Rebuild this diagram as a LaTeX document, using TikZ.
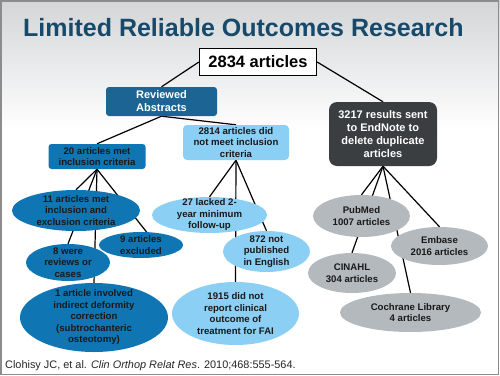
\documentclass[tikz,border=0pt]{standalone}
\usepackage{fontspec}
\setmainfont{Liberation Sans}
\usetikzlibrary{shapes.geometric,calc}
\pgfdeclarelayer{bg}
\pgfdeclarelayer{lines}
\pgfsetlayers{bg,lines,main}
\definecolor{titleblue}{HTML}{17496B}
\definecolor{revblue}{HTML}{1B6494}
\definecolor{medblue}{HTML}{0F76B3}
\definecolor{lightblue}{HTML}{8CCFF4}
\definecolor{silver}{HTML}{B4B9BE}
\definecolor{darkbox}{HTML}{3B3E41}
\definecolor{framegray}{HTML}{8C8C8C}
\definecolor{topgray}{HTML}{D3D5D7}
\begin{document}
\begin{tikzpicture}[x=1pt,y=-1pt,
  bodyfont/.style={font=\bfseries\fontsize{9.6}{11.5}\selectfont},
  bigfont/.style={font=\bfseries\fontsize{11}{13}\selectfont},
  rbox/.style={rectangle, rounded corners=3pt, inner sep=0pt, align=center},
  ell/.style={ellipse, inner sep=0pt, draw=none},
  txt/.style={align=center, inner sep=0pt, bodyfont, text=black!90},
  conn/.style={draw=black, line width=1.2pt}]
\useasboundingbox (0,0) rectangle (500,375);
\begin{pgfonlayer}{bg}
  \fill[white] (0,0) rectangle (500,375);
  \shade[top color=topgray, bottom color=white] (0,0) rectangle (500,130);
\end{pgfonlayer}
\draw[framegray, line width=1.5pt] (0.75,0.75) rectangle (498.5,374.25);

\node[anchor=base west, inner sep=0pt, font=\bfseries\fontsize{25}{30}\selectfont, text=titleblue] (title) at (23,36) {Limited Reliable Outcomes Research};

% boxes
\node[draw=black, line width=1.3pt, fill=white, minimum width=117pt, minimum height=27pt, inner sep=0pt, font=\bfseries\fontsize{16.5}{19}\selectfont] (top) at (258,62) {2834 articles};
\node[rbox, fill=revblue, text=white, bigfont, minimum width=111pt, minimum height=29pt] (rev) at (161.5,101.5) {Reviewed\\Abstracts};
\node[rbox, rounded corners=8pt, fill=darkbox, text=white, bigfont, minimum width=108pt, minimum height=64pt] (dark) at (383,134) {3217 results sent\\to EndNote to\\delete duplicate\\articles};
\node[rbox, fill=medblue, bodyfont, text=black!90, minimum width=97pt, minimum height=25pt] (r20) at (97,156.5) {20 articles met\\inclusion criteria};
\node[rbox, rounded corners=4pt, fill=lightblue, bodyfont, text=black!90, minimum width=106pt, minimum height=35pt] (r2814) at (236,142.5) {2814 articles did\\not meet inclusion\\criteria};

% dark blue ellipses
\node[ell, fill=medblue, minimum width=128pt, minimum height=41pt] (e11) at (76,210.5) {};
\node[txt] at (e11) {11 articles met\\inclusion and\\exclusion criteria};
\node[ell, fill=medblue, minimum width=84pt, minimum height=26pt] (e9) at (141,245) {};
\node[txt] at (e9) {9 articles\\excluded};
\node[ell, fill=medblue, minimum width=84pt, minimum height=37pt] (e8) at (68,262.5) {};
\node[txt] at (e8) {8 were\\reviews or\\cases};
\node[ell, fill=medblue, minimum width=148pt, minimum height=69pt] (e1) at (94,317.5) {};
\node[txt] at (e1) {1 article involved\\indirect deformity\\correction\\(subtrochanteric\\osteotomy)};

% light blue ellipses
\node[ell, fill=lightblue, minimum width=115pt, minimum height=36pt] (e27) at (209.5,215) {};
\node[txt] at (e27) {27 lacked 2-\\year minimum\\follow-up};
\node[ell, fill=lightblue, minimum width=87pt, minimum height=41pt] (e872) at (266.5,251.5) {};
\node[txt] at (e872) {872 not\\published\\in English};
\node[ell, fill=lightblue, minimum width=127pt, minimum height=63pt] (e1915) at (235.5,313.5) {};
\node[txt] at (e1915) {1915 did not\\report clinical\\outcome of\\treatment for FAI};

% gray ellipses
\node[ell, fill=silver, minimum width=97pt, minimum height=42pt] (pub) at (361.5,216) {};
\node[txt] at (pub) {PubMed\\1007 articles};
\node[ell, fill=silver, minimum width=97pt, minimum height=38pt] (emb) at (439.5,246) {};
\node[txt] at (emb) {Embase\\2016 articles};
\node[ell, fill=silver, minimum width=88pt, minimum height=40pt] (cin) at (352,273) {};
\node[txt] at (cin) {CINAHL\\304 articles};
\node[ell, fill=silver, minimum width=141pt, minimum height=39pt] (coch) at (410.5,312.5) {};
\node[txt] at (coch) {Cochrane Library\\4 articles};

\node[anchor=base west, inner sep=0pt, font=\fontsize{10.9}{13}\selectfont, text=black!85] (cite) at (5,368.5) {Clohisy JC, et al. \textit{Clin Orthop Relat Res}. 2010;468:555-564.};

% connectors
\begin{pgfonlayer}{lines}
  \draw[conn] (top.west) -- (rev.north);
  \draw[conn] (top.east) -- (dark.north);
  \draw[conn] (rev.south) -- (r20.north);
  \draw[conn] (rev.south) -- (r2814.north);
  \draw[conn] (r20.south) -- (e11.north);
  \draw[conn] (r20.south) -- (e8.north);
  \draw[conn] (r20.south) -- (e1.north);
  \draw[conn] (r20.south) -- ($(e9.north)+(7,2)$);
  \draw[conn] (r2814.south) -- (e27.north);
  \draw[conn] (r2814.south) -- (e1915.north);
  \draw[conn] (r2814.south) -- (e872.north);
  \draw[conn] (dark.south) -- (pub.north);
  \draw[conn] (dark.south) -- (cin.north);
  \draw[conn] (dark.south) -- (coch.north);
  \draw[conn] (dark.south) -- (emb.north);
\end{pgfonlayer}
\end{tikzpicture}
\end{document}
